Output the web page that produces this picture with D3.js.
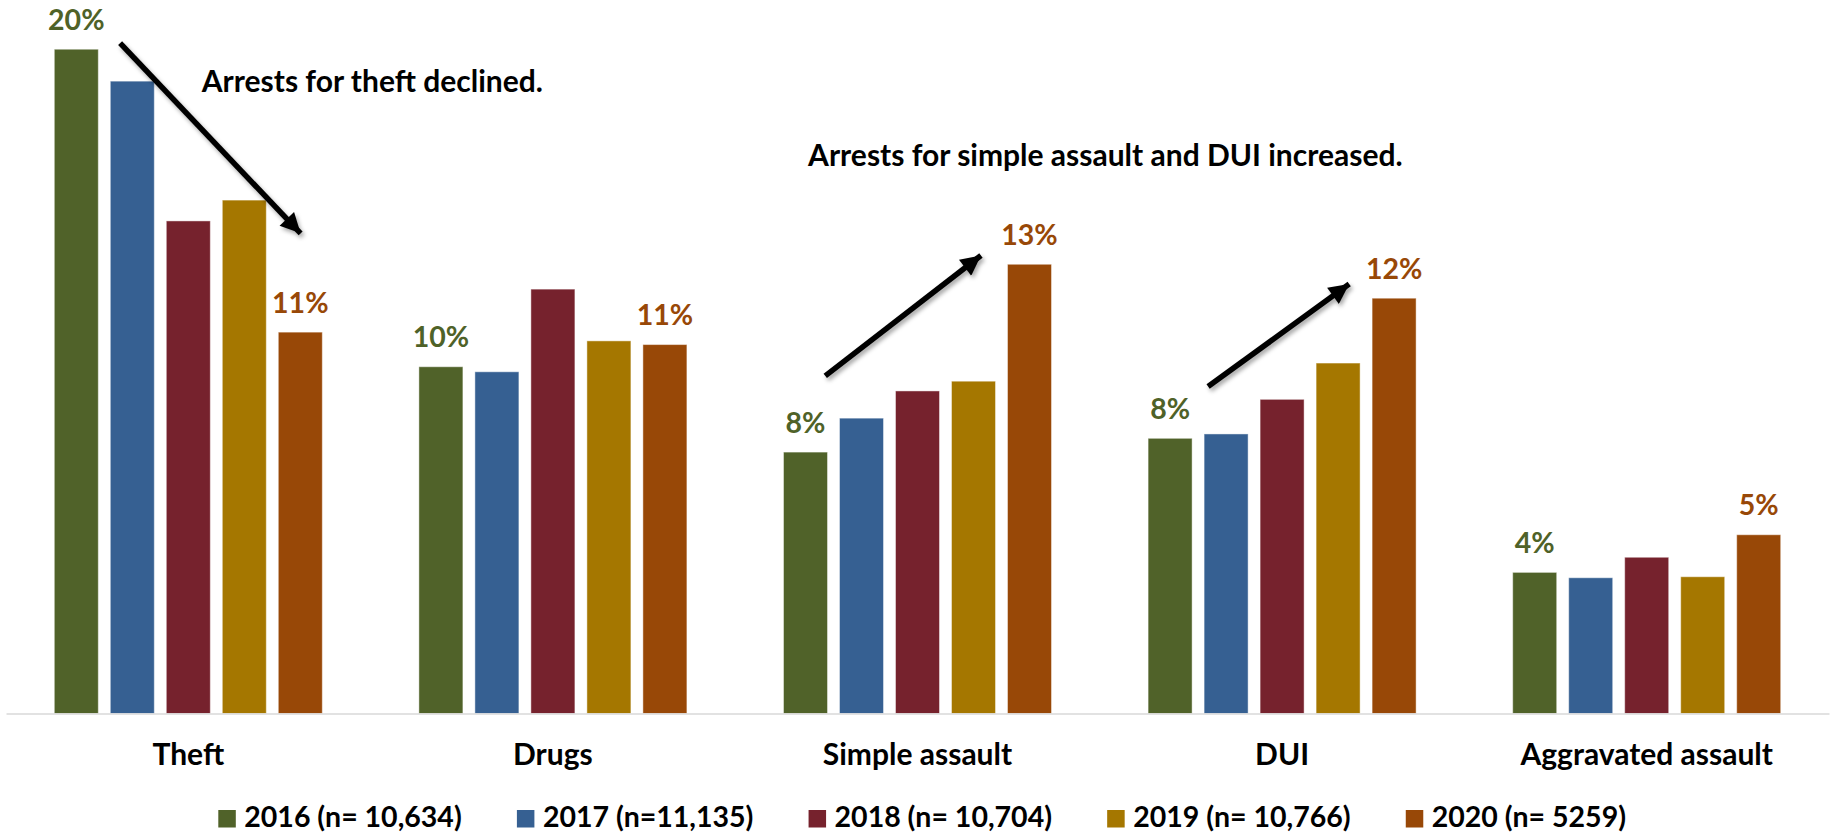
<!DOCTYPE html>
<html><head><meta charset="utf-8">
<script src="https://cdn.jsdelivr.net/npm/d3@7"></script>
<style>
html,body{margin:0;padding:0;background:#fff;}
svg{display:block;font-family:Lato,"Open Sans",sans-serif;font-weight:700;}
</style>
</head><body>
<svg id="c" width="1835" height="833"></svg>
<script>
// ---- data ----
const categories = ["Theft","Drugs","Simple assault","DUI","Aggravated assault"];
const years = ["2016","2017","2018","2019","2020"];
const legendLabels = ["2016 (n= 10,634)","2017 (n=11,135)","2018 (n= 10,704)","2019 (n= 10,766)","2020 (n= 5259)"];
const values2016 = [19.77,10.32,7.78,8.19,4.20];
const values2017 = [18.82,10.17,8.79,8.32,4.04];
const values2018 = [14.66,12.63,9.60,9.35,4.65];
const values2019 = [15.28,11.09,9.89,10.43,4.07];
const values2020 = [11.35,10.98,13.37,12.36,5.32];
const labelledYears = ["2016","2020"];
// annotation anchors in (category-band units, percent value)
const noteTexts = ["Arrests for theft declined.","Arrests for simple assault and DUI increased."];
const noteAnchors = [[0.537,18.51],[2.200,16.28]];
const arrowFrom = [[0.313,19.95],[2.247,10.05],[3.297,9.73]];
const arrowTo   = [[0.808,14.29],[2.674,13.63],[3.684,12.78]];

const seriesValues = [values2016,values2017,values2018,values2019,values2020];
const colors = ["#506229","#366092","#76222d","#a57700","#984807"];
const labelColors = {"2016":"#4f6228","2020":"#984807"};

const svg = d3.select("#c");
const left = 6, right = 1829, base = 713.5;

const x0 = d3.scaleBand().domain(categories).range([left,right]).padding(0);
const bandW = x0.bandwidth();
const outerPad = 48.3;
const x1 = d3.scaleBand().domain(years).range([outerPad, bandW-outerPad]).paddingInner(12/56).paddingOuter(0);
const y = d3.scaleLinear().domain([0,21]).range([base, base-21*33.6]);
const xu = d3.scaleLinear().domain([0,categories.length]).range([left,right]);

const defs = svg.append("defs");
const f = defs.append("filter").attr("id","sh").attr("x","-20%").attr("y","-20%").attr("width","140%").attr("height","140%");
f.append("feDropShadow").attr("dx",2).attr("dy",3).attr("stdDeviation",2).attr("flood-color","#000").attr("flood-opacity",0.35);
defs.append("marker").attr("id","ah").attr("viewBox","0 0 10 10").attr("refX",10).attr("refY",5)
  .attr("markerWidth",22).attr("markerHeight",20).attr("markerUnits","userSpaceOnUse").attr("orient","auto")
  .append("path").attr("d","M0,0 L10,5 L0,10 z").attr("fill","#000");

// bars
const rows = categories.map((c,i)=>({cat:c, vals: years.map((yr,j)=>({year:yr, j, v:seriesValues[j][i]}))}));
const g = svg.append("g");
const grp = g.selectAll("g.cat").data(rows).join("g").attr("class","cat")
  .attr("transform",d=>`translate(${x0(d.cat)},0)`);
grp.selectAll("rect").data(d=>d.vals).join("rect")
  .attr("x",d=>x1(d.year)).attr("width",x1.bandwidth())
  .attr("y",d=>y(d.v)).attr("height",d=>base-y(d.v))
  .attr("fill",d=>colors[d.j]).attr("stroke","rgba(255,255,255,0.45)").attr("stroke-width",1);
grp.selectAll("text.lbl").data(d=>d.vals.filter(v=>labelledYears.includes(v.year))).join("text").attr("class","lbl")
  .attr("x",d=>x1(d.year)+x1.bandwidth()/2).attr("y",d=>y(d.v)-19.5)
  .attr("text-anchor","middle").attr("fill",d=>labelColors[d.year]).attr("font-size",28.5)
  .text(d=>Math.round(d.v)+"%");

// axis
const xAxis = d3.axisBottom(x0).tickSize(0).tickPadding(0);
const ax = svg.append("g").attr("transform",`translate(0,${base})`).call(xAxis);
ax.select(".domain").attr("stroke","#d9d9d9").attr("stroke-width",1.5);
ax.selectAll(".tick text").attr("font-size",30).attr("font-family","Lato").attr("font-weight",700)
  .attr("fill","#000").attr("dy",0).attr("y",51.5);

// arrows
svg.append("g").attr("filter","url(#sh)").selectAll("line").data(arrowFrom).join("line")
  .attr("x1",d=>xu(d[0])).attr("y1",d=>y(d[1]))
  .attr("x2",(d,i)=>xu(arrowTo[i][0])).attr("y2",(d,i)=>y(arrowTo[i][1]))
  .attr("stroke","#000").attr("stroke-width",5.5).attr("marker-end","url(#ah)");

// annotation texts
svg.append("g").selectAll("text").data(noteTexts).join("text")
  .attr("x",(d,i)=>xu(noteAnchors[i][0])).attr("y",(d,i)=>y(noteAnchors[i][1]))
  .attr("font-size",30).attr("fill","#000").text(d=>d);

// legend
const lg = svg.append("g");
const items = lg.selectAll("g").data(legendLabels).join("g");
items.append("rect").attr("width",17.5).attr("height",17.5).attr("y",810).attr("fill",(d,i)=>colors[i]);
items.append("text").attr("x",26).attr("y",827).attr("font-size",28.5).attr("fill","#000").text(d=>d);
const widths = [];
items.each(function(){ widths.push(26 + this.querySelector("text").getComputedTextLength()); });
const lx0 = 218.3, lx1 = 1626;
const gap = (lx1 - lx0 - d3.sum(widths)) / (widths.length-1);
let cx = lx0;
items.attr("transform",(d,i)=>{ const t=`translate(${cx},0)`; cx += widths[i]+gap; return t; });
</script>
</body></html>
